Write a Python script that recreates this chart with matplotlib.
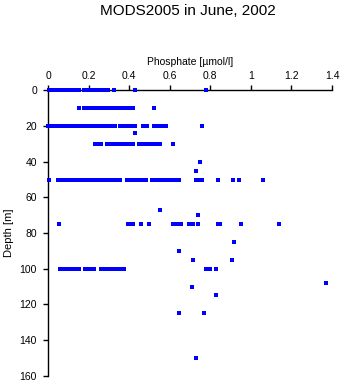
import matplotlib
matplotlib.use("Agg")
import matplotlib.pyplot as plt

plt.rcParams['font.family'] = ['Liberation Sans', 'DejaVu Sans']

# Phosphate values [µmol/l] observed at each depth [m]
d0 = [0.005, 0.015, 0.025, 0.035, 0.045, 0.055, 0.065, 0.075, 0.085, 0.095, 0.105,
      0.115, 0.125, 0.135, 0.145, 0.155, 0.175, 0.185, 0.195, 0.205, 0.215, 0.225,
      0.235, 0.245, 0.255, 0.265, 0.275, 0.285, 0.295, 0.325, 0.43, 0.78]
d10 = [0.155, 0.175, 0.185, 0.195, 0.205, 0.215, 0.235, 0.245, 0.255, 0.265, 0.28,
       0.29, 0.30, 0.31, 0.33, 0.34, 0.36, 0.37, 0.38, 0.40, 0.42, 0.52]
d20 = [0.0, 0.01, 0.02, 0.03, 0.04, 0.05, 0.065, 0.08, 0.09, 0.10, 0.11, 0.12, 0.13,
       0.14, 0.15, 0.16, 0.17, 0.18, 0.19, 0.20, 0.21, 0.22, 0.23, 0.24, 0.25, 0.26,
       0.27, 0.28, 0.29, 0.30, 0.31, 0.32, 0.33, 0.355, 0.365, 0.38, 0.39, 0.41, 0.42,
       0.43, 0.47, 0.48, 0.49, 0.52, 0.54, 0.55, 0.57, 0.58, 0.76]
d24 = [0.427]
d30 = [0.23, 0.24, 0.25, 0.26, 0.29, 0.30, 0.32, 0.33, 0.345, 0.355, 0.37, 0.38,
       0.39, 0.40, 0.41, 0.42, 0.45, 0.46, 0.475, 0.49, 0.50, 0.51, 0.52, 0.535, 0.55,
       0.615]
d40 = [0.75]
d45 = [0.73]
d50 = [0.005, 0.05, 0.06, 0.07, 0.08, 0.09, 0.105, 0.11, 0.12, 0.13, 0.14, 0.15,
       0.16, 0.17, 0.18, 0.19, 0.20, 0.21, 0.22, 0.23, 0.24, 0.25, 0.26, 0.27, 0.28,
       0.29, 0.30, 0.31, 0.32, 0.33, 0.34, 0.355, 0.39, 0.40, 0.415, 0.43, 0.445, 0.46,
       0.475, 0.485, 0.515, 0.53, 0.545, 0.56, 0.575, 0.59, 0.61, 0.625, 0.645, 0.73,
       0.745, 0.76, 0.84, 0.91, 0.94, 1.06]
d67 = [0.55]
d70 = [0.74]
d75 = [0.056, 0.395, 0.41, 0.42, 0.46, 0.50, 0.615, 0.635, 0.655, 0.695, 0.715, 0.74,
       0.84, 0.85, 0.95, 1.14]
d85 = [0.918]
d90 = [0.647]
d95 = [0.717, 0.908]
d100 = [0.06, 0.07, 0.08, 0.09, 0.10, 0.11, 0.13, 0.14, 0.155, 0.18, 0.19, 0.20,
        0.21, 0.225, 0.26, 0.27, 0.28, 0.295, 0.31, 0.32, 0.33, 0.34, 0.35, 0.36,
        0.375, 0.78, 0.80, 0.83]
d108 = [1.37]
d110 = [0.708]
d115 = [0.83]
d125 = [0.647, 0.769]
d150 = [0.728]

depths = [0, 10, 20, 24, 30, 40, 45, 50, 67, 70, 75, 85, 90, 95, 100, 108, 110, 115, 125, 150]
rows = [d0, d10, d20, d24, d30, d40, d45, d50, d67, d70, d75, d85, d90, d95, d100,
        d108, d110, d115, d125, d150]

xticks = [0, 0.2, 0.4, 0.6, 0.8, 1.0, 1.2, 1.4]
xticklabels = ["0", "0.2", "0.4", "0.6", "0.8", "1", "1.2", "1.4"]
yticks = [0, 20, 40, 60, 80, 100, 120, 140, 160]

fig = plt.figure(figsize=(3.43, 3.84), dpi=100)
ax = fig.add_axes([0.14, 0.0216, 0.828, 0.7432])

for dep, vals in zip(depths, rows):
    ax.plot(vals, [dep] * len(vals), linestyle='none', marker='s', markersize=2.3,
            markeredgewidth=0, color='#0000ff', clip_on=False, zorder=4)

ax.set_xlim(0, 1.4)
ax.set_ylim(160, 0)
ax.xaxis.set_ticks_position('top')
ax.xaxis.set_label_position('top')
ax.spines['right'].set_visible(False)
ax.spines['bottom'].set_visible(False)
for s in ('top', 'left'):
    ax.spines[s].set_linewidth(1.0)
ax.set_xticks(xticks)
ax.set_xticklabels(xticklabels)
ax.set_yticks(yticks)
ax.tick_params(axis='both', direction='out', length=3.5, width=1.0, labelsize=7.5)
ax.tick_params(axis='x', pad=3.5)
ax.tick_params(axis='y', pad=4.5)
ax.set_xlabel("Phosphate [µmol/l]", fontsize=7.5, labelpad=4)
ax.set_ylabel("Depth [m]", fontsize=8, labelpad=4)
fig.text(0.548, 0.972, "MODS2005 in June, 2002", ha='center', va='center', fontsize=11)

fig.savefig("out.png", dpi=100)
